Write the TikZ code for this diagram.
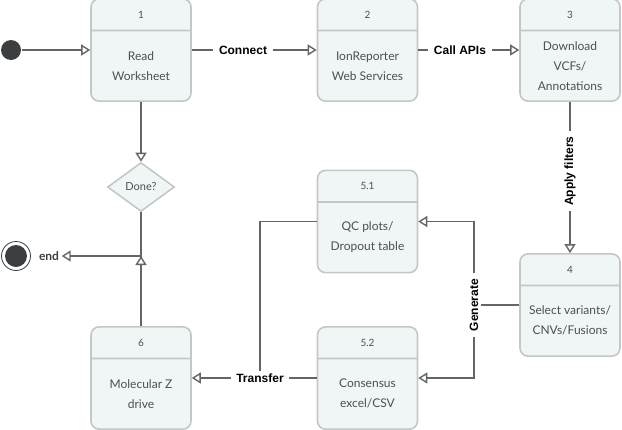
\documentclass[tikz,border=0pt]{standalone}
\usepackage{fontspec}
\setmainfont{Lato}
\newfontfamily\lblfont{Liberation Sans}
\usetikzlibrary{
    arrows.meta,
    shapes.geometric,
    shapes.multipart,
}
\definecolor{boxfill}{HTML}{F0F6F6}
\definecolor{boxedge}{HTML}{C3C7C7}
\definecolor{wire}{HTML}{646666}
\definecolor{ink}{HTML}{4D4F50}
\definecolor{dot}{HTML}{3C3F42}
\newcommand{\hd}[1]{\parbox[c][30pt][c]{96pt}{\centering\fontsize{10}{12}\selectfont #1}}
\newcommand{\bd}[1]{\parbox[c][69pt][c]{96pt}{\centering\fontsize{12}{20}\selectfont #1\par}}

\begin{document}
\begin{tikzpicture}[x=1pt, y=-1pt, line width=1.4pt,
    main/.style = {rectangle split, rectangle split parts=2, draw=boxedge, fill=boxfill, line width=1.6pt, rounded corners=8pt, inner sep=0pt, minimum width=100pt, text=ink},
    cond/.style = {diamond, draw=boxedge, fill=boxfill, line width=1.6pt, inner sep=0pt, aspect=1.37, minimum width=67pt, minimum height=49pt, text=ink, font=\fontsize{11}{13}\selectfont},
    lbl/.style = {font=\lblfont\bfseries\fontsize{12}{14}\selectfont, inner xsep=5pt, inner ysep=2pt},
    link/.style = {draw=wire},
    arr/.style = {draw=wire, -{Triangle[open, length=9pt, width=11pt]}},
    endmark/.style = {circle, draw=dot, line width=0.8pt, minimum size=29pt, inner sep=0pt, path picture={\fill[dot] (path picture bounding box.center) circle (11pt);}},
]
    \useasboundingbox (0,0) rectangle (622,429);

    \node[main] (1)  at (141,50)    {\hd{1}\nodepart{two}\bd{Read\\Worksheet}};
    \node[main] (2)  at (367.5,50)  {\hd{2}\nodepart{two}\bd{IonReporter\\Web Services}};
    \node[main] (3)  at (570,50)    {\hd{3}\nodepart{two}\bd{Download\\VCFs/\\Annotations}};
    \node[main] (4)  at (570,305)   {\hd{4}\nodepart{two}\bd{Select variants/\\CNVs/Fusions}};
    \node[main] (51) at (367.5,221.5) {\hd{5.1}\nodepart{two}\bd{QC plots/\\Dropout table}};
    \node[main] (52) at (367.5,378) {\hd{5.2}\nodepart{two}\bd{Consensus\\excel/CSV}};
    \node[main] (6)  at (141,378)   {\hd{6}\nodepart{two}\bd{Molecular Z\\drive}};
    \node[cond] (done) at (141,187) {Done?};

    \node[circle, fill=dot, minimum size=20pt, inner sep=0pt] (s) at (11,50) {};
    \node[endmark] (e) at (16,256) {};
    \node[text=dot, font=\bfseries\fontsize{12}{14}\selectfont, inner sep=2pt] (et) at (49,256) {end};
    \coordinate (j) at (141,256);

    \node[lbl] (c)   at (243,50)  {Connect};
    \node[lbl] (api) at (460,50)  {Call APIs};
    \node[lbl, rotate=90] (af)  at (570,171) {Apply filters};
    \node[lbl, rotate=90] (gen) at (474,305) {Generate};
    \node[lbl] (tr)  at (260,378) {Transfer};

    \draw[arr] (s) -- (1);
    \draw[link] (1) -- (c);
    \draw[arr] (c) -- (2);
    \draw[link] (2) -- (api);
    \draw[arr] (api) -- (3);
    \draw[link] (3) -- (af);
    \draw[arr] (af) -- (4);
    \draw[link] (4) -- (gen);
    \draw[arr] (gen.east) |- (51);
    \draw[arr] (gen.west) |- (52);
    \draw[link] (51) -| (tr);
    \draw[link] (52) -- (tr);
    \draw[arr] (tr) -- (6);
    \draw[arr] (6) -- (j);
    \draw[arr] (1) -- (done);
    \draw[arr] (done) -- (j) -- (et);
\end{tikzpicture}
\end{document}
